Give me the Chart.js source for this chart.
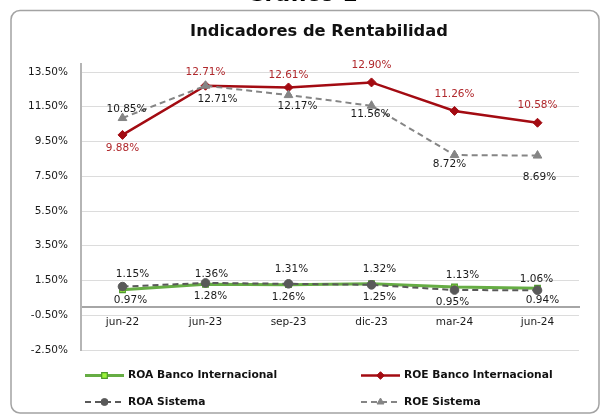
<!DOCTYPE html>
<html>
<head>
<meta charset="utf-8">
<script src="https://cdn.jsdelivr.net/npm/chart.js@4"></script>
<style>
    body { margin: 0; background: #fff; }
    canvas { display: block; }
</style>
</head>
<body>
<canvas id="rentChart" width="601" height="416"></canvas>
<script>
const categories = ['jun-22', 'jun-23', 'sep-23', 'dic-23', 'mar-24', 'jun-24'];
const roaBanco = [0.97, 1.28, 1.26, 1.32, 1.13, 1.06];
const roeBanco = [9.88, 12.71, 12.61, 12.90, 11.26, 10.58];
const roaSistema = [1.15, 1.36, 1.31, 1.25, 0.95, 0.94];
const roeSistema = [10.85, 12.71, 12.17, 11.56, 8.72, 8.69];
const yTicks = [-2.5, -0.5, 1.5, 3.5, 5.5, 7.5, 9.5, 11.5, 13.5];

// label offsets relative to each point (dx, dy)
const labelShift = [
    [[8, 11], [5, 12], [0, 13], [8, -14], [8, -12], [-1, -9]],
    [[0, 13], [0, -13], [0, -12], [0, -17], [0, -17], [0, -17]],
    [[10, -12], [6, -9], [3, -15], [8, 12], [-2, 12], [5, 10]],
    [[4, -9], [12, 14], [9, 11], [-1, 9], [-5, 9], [2, 22]]
];
const labelColors = ['#1a1a1a', '#b0282c', '#1a1a1a', '#1a1a1a'];
const legendMarkSize = [4, 3.8, 3.5, 4];

const FONT = '"DejaVu Sans", sans-serif';

function formatPct(v) {
    return v.toFixed(2) + '%';
}

const framePlugin = {
    id: 'frame',
    beforeDraw(chart) {
        const ctx = chart.ctx;
        ctx.save();
        ctx.fillStyle = '#fff';
        ctx.fillRect(0, 0, chart.width, chart.height);
        ctx.strokeStyle = '#a3a3a3';
        ctx.lineWidth = 1.5;
        ctx.beginPath();
        ctx.roundRect(11, 10.5, 588, 402.5, 9);
        ctx.stroke();
        ctx.fillStyle = '#000';
        ctx.font = 'bold 22px ' + FONT;
        ctx.textAlign = 'center';
        ctx.textBaseline = 'alphabetic';
        ctx.fillText('Gráfico 1', 302, 0.5);
        ctx.font = 'bold 16.3px ' + FONT;
        ctx.textBaseline = 'middle';
        ctx.fillStyle = '#111';
        ctx.fillText('Indicadores de Rentabilidad', 319, 32);
        // y axis line runs a little above the top gridline
        const y = chart.scales.y;
        ctx.strokeStyle = '#b5b5b5';
        ctx.lineWidth = 2;
        ctx.beginPath();
        ctx.moveTo(y.right, y.top - 9);
        ctx.lineTo(y.right, y.top);
        ctx.stroke();
        ctx.restore();
    }
};

const valueLabels = {
    id: 'valueLabels',
    afterDatasetsDraw(chart) {
        const ctx = chart.ctx;
        ctx.save();
        ctx.font = '10.5px ' + FONT;
        ctx.textAlign = 'center';
        ctx.textBaseline = 'middle';
        chart.data.datasets.forEach((ds, i) => {
            const meta = chart.getDatasetMeta(i);
            ctx.fillStyle = labelColors[i];
            meta.data.forEach((pt, j) => {
                const s = labelShift[i][j];
                ctx.fillText(formatPct(ds.data[j]), pt.x + s[0], pt.y + s[1]);
            });
        });
        ctx.restore();
    }
};

const legendPlugin = {
    id: 'customLegend',
    afterDraw(chart) {
        const ctx = chart.ctx;
        const spots = [[85, 375.5], [361, 375.5], [85, 402], [361, 402]];
        ctx.save();
        chart.data.datasets.forEach((ds, k) => {
            const x = spots[k][0], y = spots[k][1];
            const len = 39;
            ctx.strokeStyle = ds.borderColor;
            ctx.lineWidth = ds.borderWidth;
            ctx.setLineDash(ds.borderDash || []);
            ctx.beginPath();
            ctx.moveTo(x, y);
            ctx.lineTo(x + len, y);
            ctx.stroke();
            ctx.setLineDash([]);
            ctx.fillStyle = ds.pointBackgroundColor;
            ctx.strokeStyle = ds.pointBorderColor;
            ctx.lineWidth = ds.pointBorderWidth;
            Chart.helpers.drawPoint(ctx, {
                pointStyle: ds.pointStyle,
                radius: legendMarkSize[k],
                borderWidth: ds.pointBorderWidth
            }, x + len / 2, y);
            ctx.fillStyle = '#111';
            ctx.font = 'bold 10.7px ' + FONT;
            ctx.textAlign = 'left';
            ctx.textBaseline = 'middle';
            ctx.fillText(ds.label, x + 43, y);
        });
        ctx.restore();
    }
};

const ctx = document.getElementById('rentChart').getContext('2d');
const rentChart = new Chart(ctx, {
    type: 'line',
    data: {
        labels: categories,
        datasets: [
            {
                label: 'ROA Banco Internacional',
                data: roaBanco,
                borderColor: '#66ad44',
                borderWidth: 3,
                pointStyle: 'rect',
                pointRadius: 4,
                pointBackgroundColor: '#9bf53a',
                pointBorderColor: '#4f9a2e',
                pointBorderWidth: 1.2,
                order: 3
            },
            {
                label: 'ROE Banco Internacional',
                data: roeBanco,
                borderColor: '#a30b12',
                borderWidth: 2.5,
                pointStyle: 'rectRot',
                pointRadius: 4.5,
                pointBackgroundColor: '#a30b12',
                pointBorderColor: '#a30b12',
                pointBorderWidth: 1,
                order: 4
            },
            {
                label: 'ROA Sistema',
                data: roaSistema,
                borderColor: '#595959',
                borderWidth: 2,
                borderDash: [6, 4],
                pointStyle: 'circle',
                pointRadius: 4.3,
                pointBackgroundColor: '#595959',
                pointBorderColor: '#595959',
                pointBorderWidth: 1,
                order: 1
            },
            {
                label: 'ROE Sistema',
                data: roeSistema,
                borderColor: '#858585',
                borderWidth: 2,
                borderDash: [6, 4],
                pointStyle: 'triangle',
                pointRadius: 5,
                pointBackgroundColor: '#858585',
                pointBorderColor: '#858585',
                pointBorderWidth: 1,
                order: 2
            }
        ]
    },
    options: {
        responsive: false,
        animation: false,
        devicePixelRatio: 1,
        layout: {
            padding: { left: 0, right: 22, top: 72, bottom: 66 }
        },
        plugins: {
            legend: { display: false },
            title: { display: false },
            tooltip: { enabled: false }
        },
        scales: {
            x: {
                position: { y: 0 },
                offset: true,
                grid: { display: false, drawTicks: false },
                border: { display: true, color: '#a6a6a6', width: 2 },
                ticks: {
                    color: '#1a1a1a',
                    padding: 9,
                    font: { family: FONT, size: 10.5 },
                    maxRotation: 0
                }
            },
            y: {
                min: yTicks[0],
                max: yTicks[yTicks.length - 1],
                afterBuildTicks: (scale) => {
                    scale.ticks = yTicks.map(v => ({ value: v }));
                },
                afterFit: (scale) => {
                    scale.width = 81;
                },
                grid: { color: '#dcdcdc', lineWidth: 1, drawTicks: false },
                border: { color: '#b5b5b5', width: 2 },
                ticks: {
                    color: '#1a1a1a',
                    padding: 13,
                    font: { family: FONT, size: 10.5 },
                    callback: (v) => formatPct(v)
                }
            }
        }
    },
    plugins: [framePlugin, valueLabels, legendPlugin]
});
</script>
</body>
</html>
